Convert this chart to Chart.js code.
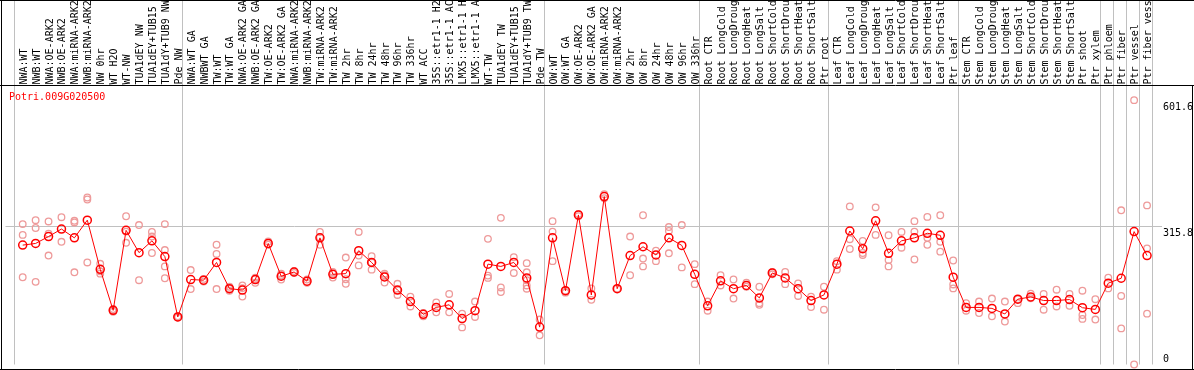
<!DOCTYPE html>
<html lang="en">
<head>
    <meta charset="UTF-8">
    <title>Potri.009G020500</title>
    <script src="https://cdn.jsdelivr.net/npm/chart.js"></script>
    <style>
        body { margin: 0; background: #fff; }
        canvas { display: block; }
    </style>
</head>
<body>
    <canvas id="myChart" width="1194" height="370"></canvas>
    <script>
        const geneName = 'Potri.009G020500';

        const samples = [
            'NWA:WT', 'NWB:WT', 'NWA:OE-ARK2', 'NWB:OE-ARK2', 'NWA:miRNA-ARK2', 'NWB:miRNA-ARK2',
            'NW 0hr', 'WT H2O', 'WT-NW', 'TUA1dEY NW', 'TUA1dEY+TUB15', 'TUA1dY+TUB9 NW', 'Pde NW',
            'NWA:WT GA', 'NWBWT GA', 'TW:WT', 'TW:WT GA', 'NWA:OE-ARK2 GA', 'NWB:OE-ARK2 GA',
            'TW:OE-ARK2', 'TW:OE-ARK2 GA', 'NWA:miRNA-ARK2', 'NWB:miRNA-ARK2', 'TW:miRNA-ARK2',
            'TW:miRNA-ARK2', 'TW 2hr', 'TW 8hr', 'TW 24hr', 'TW 48hr', 'TW 96hr', 'TW 336hr',
            'WT ACC', '35S::etr1-1 H2', '35S::etr1-1 AC', 'LMX5::etr1-1 H', 'LMX5::etr1-1 A',
            'WT-TW', 'TUA1dEY TW', 'TUA1dEY+TUB15', 'TUA1dY+TUB9 TW', 'Pde TW',
            'OW:WT', 'OW:WT GA', 'OW:OE-ARK2', 'OW:OE-ARK2 GA', 'OW:miRNA-ARK2', 'OW:miRNA-ARK2',
            'OW 2hr', 'OW 8hr', 'OW 24hr', 'OW 48hr', 'OW 96hr', 'OW 336hr',
            'Root CTR', 'Root LongCold', 'Root LongDroug', 'Root LongHeat', 'Root LongSalt',
            'Root ShortCold', 'Root ShortDrou', 'Root ShortHeat', 'Root ShortSalt', 'Ptr root',
            'Leaf CTR', 'Leaf LongCold', 'Leaf LongDroug', 'Leaf LongHeat', 'Leaf LongSalt',
            'Leaf ShortCold', 'Leaf ShortDrou', 'Leaf ShortHeat', 'Leaf ShortSalt', 'Ptr leaf',
            'Stem CTR', 'Stem LongCold', 'Stem LongDroug', 'Stem LongHeat', 'Stem LongSalt',
            'Stem ShortCold', 'Stem ShortDrou', 'Stem ShortHeat', 'Stem ShortSalt', 'Ptr shoot',
            'Ptr xylem', 'Ptr phloem', 'Ptr fiber', 'Ptr vessel', 'Ptr fiber vess'
        ];

        // first sample of each block (a grey separator goes in front of it)
        const groupStarts = [0, 13, 41, 53, 63, 73, 84, 85, 86, 87];

        const means = [
            271.7, 275.5, 291.2, 308.3, 288.2, 328.5, 216.5, 123.2, 305.3, 254.6, 281.4, 245.6, 108.2,
            193.4, 191.9, 232.2, 172.5, 169.5, 193.4, 275.5, 200.8, 210.5, 189.6, 288.2, 205.3, 206.8,
            259.1, 232.2, 199.3, 169.5, 143.3, 114.2, 129.9, 135.9, 104.5, 122.4, 228.4, 223.2, 232.2,
            197.1, 85.1,
            288.2, 168.0, 340.4, 158.3, 382.2, 172.5, 247.9, 268.0, 249.3, 288.2, 271.0, 205.3,
            133.6, 190.4, 172.5, 179.9, 151.5, 208.3, 197.1, 172.5, 145.6, 158.3,
            228.4, 303.8, 263.5, 327.0, 253.1, 281.4, 288.2, 298.6, 294.1, 198.6,
            129.9, 129.9, 127.7, 115.0, 148.6, 153.8, 145.6, 145.6, 147.8, 129.2, 125.4,
            185.1, 196.3, 302.4, 247.9
        ];

        const replicates = [
            [319.5, 294.9, 198.6], [328.5, 310.6, 188.1], [325.5, 297.9, 247.9], [335.2, 279.2],
            [327.0, 323.3, 209.8], [380.0, 375.5, 232.2], [229.2, 212.0, 206.8], [126.2, 123.2, 120.2],
            [337.4, 277.0, 302.4], [317.3, 191.9], [301.6, 291.2, 253.8], [319.5, 260.5, 223.2, 196.3],
            [109.7, 106.8, 108.2],
            [215.0, 171.7], [194.8, 188.9], [272.5, 251.6, 171.7], [176.9, 168.0, 172.5],
            [179.9, 154.5, 173.9], [197.8, 185.9, 194.8], [280.0, 272.5], [206.8, 193.4, 202.3],
            [212.8, 208.3], [193.4, 185.9], [301.6, 272.5, 289.7], [210.5, 197.8, 206.8],
            [243.4, 183.6, 194.0], [301.6, 247.9, 225.5], [246.4, 215.8, 232.2], [206.8, 186.6, 203.1],
            [183.6, 158.3, 169.5], [154.5, 132.1], [109.7, 117.2], [141.1, 118.7], [160.5, 118.7],
            [115.7, 84.4], [143.3, 108.2], [285.9, 202.3, 197.1], [333.7, 175.4, 165.0],
            [244.1, 208.3], [230.7, 209.8, 191.9, 179.9, 172.5], [102.3, 66.4],
            [326.2, 302.4, 235.2], [168.0, 163.5], [342.7, 337.4], [173.2, 147.1], [387.5, 378.5],
            [172.5], [291.2, 203.1], [339.7, 241.1, 223.2], [259.1, 235.2], [312.8, 303.8, 253.1],
            [317.3, 221.0], [228.4, 182.9],
            [143.3, 122.4], [203.1, 179.9], [193.4, 150.1], [185.9, 176.9], [176.9, 139.6, 135.9],
            [210.5, 205.3], [210.5, 182.9], [184.4, 156.0], [154.5, 130.6], [176.9, 124.7],
            [235.2, 215.8], [359.8, 285.2, 262.8], [281.4, 253.8, 249.3], [357.6, 294.9],
            [294.1, 238.1, 223.2], [301.6, 265.8], [326.2, 302.4, 238.9], [335.9, 288.2, 272.5],
            [339.7, 279.2, 256.8], [236.7, 182.2, 173.2],
            [139.6, 122.4], [143.3, 117.2], [150.1, 109.7], [143.3, 97.8], [139.6, 148.6],
            [161.3, 150.8], [160.5, 124.7], [170.2, 132.1], [160.5, 133.6], [168.0, 112.7, 103.8],
            [148.6, 102.3],
            [197.8, 173.2], [350.9, 156.0, 82.1], [601.6, 0], [362.1, 264.3, 115.7]
        ];

        const yTicks = [0, 315.8, 601.6];
        const yGridValue = 315.8;

        const FONT = '10px "DejaVu Sans Mono", monospace';

        // grey separators + the 315.8 line, under the points
        const gridPlugin = {
            id: 'grid',
            beforeDatasetsDraw(chart) {
                const ctx = chart.ctx;
                const x = chart.scales.x;
                const y = chart.scales.y;
                const area = chart.chartArea;
                ctx.save();
                ctx.strokeStyle = '#c0c0c0';
                ctx.lineWidth = 1;
                const seps = groupStarts.map(s => x.getPixelForValue(s - 0.65));
                seps.push(x.getPixelForValue(samples.length - 1 + 0.38));
                seps.forEach(px => {
                    ctx.beginPath();
                    ctx.moveTo(Math.round(px) + 0.5, 0);
                    ctx.lineTo(Math.round(px) + 0.5, area.bottom);
                    ctx.stroke();
                });
                const gy = Math.round(y.getPixelForValue(yGridValue)) + 0.5;
                ctx.beginPath();
                ctx.moveTo(area.left, gy);
                ctx.lineTo(1162, gy);
                ctx.stroke();
                ctx.restore();
            }
        };

        // frame, sample names, gene name, value labels
        const textPlugin = {
            id: 'texts',
            afterDatasetsDraw(chart) {
                const ctx = chart.ctx;
                const x = chart.scales.x;
                const y = chart.scales.y;
                ctx.save();
                ctx.strokeStyle = '#000';
                ctx.lineWidth = 1;
                ctx.beginPath();
                ctx.moveTo(0, 0.5); ctx.lineTo(1194, 0.5);
                ctx.moveTo(0, 85.5); ctx.lineTo(1194, 85.5);
                ctx.moveTo(1.5, 0); ctx.lineTo(1.5, 370);
                ctx.moveTo(0, 369.5); ctx.lineTo(1194, 369.5);
                ctx.moveTo(1192.5, 85); ctx.lineTo(1192.5, 370);
                ctx.stroke();

                ctx.font = FONT;
                ctx.fillStyle = '#000';
                ctx.textBaseline = 'alphabetic';
                ctx.textAlign = 'left';
                ctx.save();
                ctx.beginPath();
                ctx.rect(0, 1, 1194, 84);
                ctx.clip();
                samples.forEach((name, i) => {
                    const px = x.getPixelForValue(i);
                    ctx.save();
                    ctx.translate(px + 4, 84.5);
                    ctx.rotate(-Math.PI / 2);
                    ctx.fillText(name, 0, 0);
                    ctx.restore();
                });
                ctx.restore();

                ctx.fillStyle = '#ff0000';
                ctx.fillText(geneName, 9, 100);

                ctx.fillStyle = '#000';
                yTicks.forEach(v => {
                    const py = y.getPixelForValue(v);
                    const by = v === 0 ? py - 3 : py + 10;
                    ctx.fillText(String(v), 1163, by);
                });
                ctx.restore();
            }
        };

        const meanPoints = means.map((v, i) => ({ x: i, y: v }));
        const repPoints = replicates.flatMap((arr, i) => arr.map(v => ({ x: i, y: v })));

        const ctx = document.getElementById('myChart').getContext('2d');
        const myChart = new Chart(ctx, {
            type: 'scatter',
            data: {
                datasets: [
                    {
                        label: 'mean',
                        data: meanPoints,
                        showLine: true,
                        borderColor: '#ff0000',
                        borderWidth: 1,
                        pointRadius: 4,
                        pointBorderWidth: 1.5,
                        pointBorderColor: '#ff0000',
                        pointBackgroundColor: 'rgba(0,0,0,0)',
                        clip: false,
                    },
                    {
                        label: 'replicates',
                        data: repPoints,
                        showLine: false,
                        pointRadius: 3.3,
                        pointBorderWidth: 1.3,
                        pointBorderColor: '#ee9a9a',
                        pointBackgroundColor: 'rgba(0,0,0,0)',
                        clip: false,
                    },
                ],
            },
            options: {
                responsive: false,
                animation: false,
                devicePixelRatio: 1,
                layout: { padding: { left: 2, right: 2, top: 86, bottom: 1 } },
                scales: {
                    x: { type: 'linear', display: false, min: -1.3308, max: 90.208 },
                    y: { type: 'linear', display: false, min: 0, max: 633.8 },
                },
                plugins: {
                    legend: { display: false },
                    tooltip: { enabled: false },
                },
            },
            plugins: [gridPlugin, textPlugin],
        });
    </script>
</body>
</html>
